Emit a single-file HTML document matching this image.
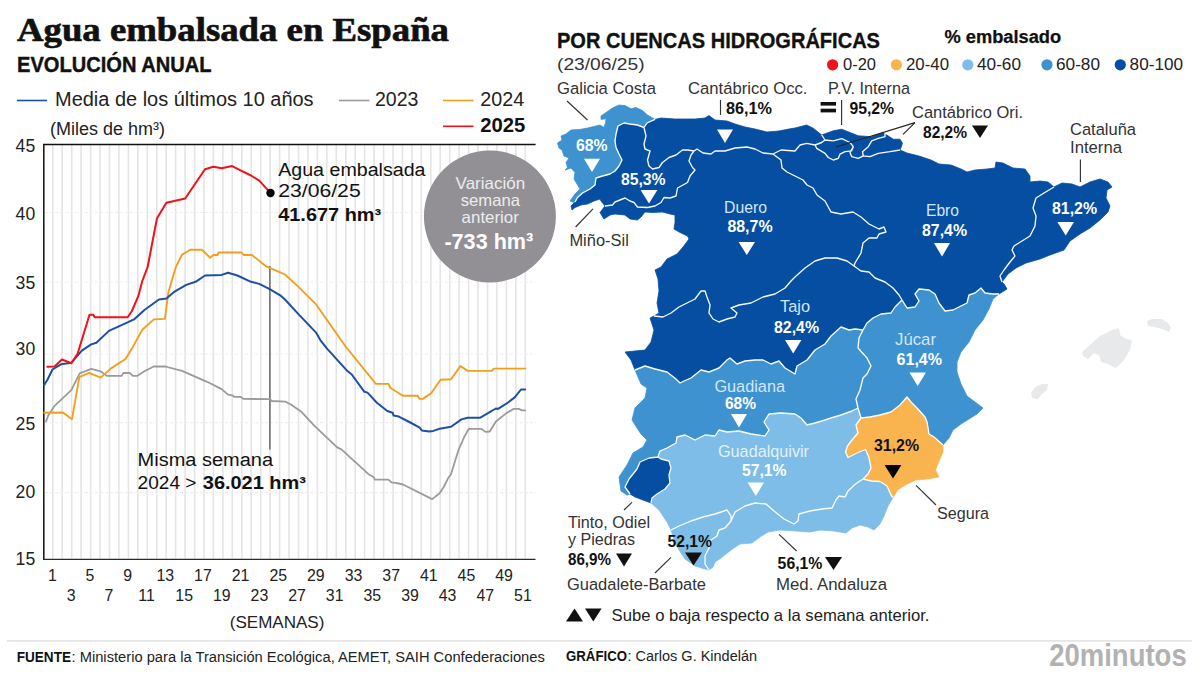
<!DOCTYPE html>
<html lang="es"><head><meta charset="utf-8"><title>Agua embalsada en España</title>
<style>html,body{margin:0;padding:0;background:#fff;}body{width:1200px;height:675px;overflow:hidden;}svg{display:block;}</style>
</head><body>
<svg width="1200" height="675" viewBox="0 0 1200 675">
<rect width="1200" height="675" fill="#ffffff"/>
<text x="17" y="41.3" font-family='"Liberation Serif", serif' font-size="33.5" font-weight="700" fill="#111" text-anchor="start" textLength="432" lengthAdjust="spacingAndGlyphs" stroke="#111" stroke-width="0.65">Agua embalsada en España</text>
<text x="17" y="72" font-family='"Liberation Sans", sans-serif' font-size="21.63" font-weight="700" fill="#111" text-anchor="start" textLength="194.5" lengthAdjust="spacingAndGlyphs" stroke="#111" stroke-width="0.4">EVOLUCIÓN ANUAL</text>
<line x1="17" y1="100.5" x2="47" y2="100.5" stroke="#1f4fa5" stroke-width="1.6"/>
<text x="55" y="106.3" font-family='"Liberation Sans", sans-serif' font-size="19.33" font-weight="400" fill="#222222" text-anchor="start" textLength="258.6" lengthAdjust="spacingAndGlyphs">Media de los últimos 10 años</text>
<line x1="339" y1="100.5" x2="369.3" y2="100.5" stroke="#999999" stroke-width="1.6"/>
<text x="375" y="106.2" font-family='"Liberation Sans", sans-serif' font-size="19.33" font-weight="400" fill="#222222" text-anchor="start" textLength="43.4" lengthAdjust="spacingAndGlyphs">2023</text>
<line x1="443" y1="100.5" x2="473.5" y2="100.5" stroke="#f0a01e" stroke-width="1.6"/>
<text x="480.3" y="106.2" font-family='"Liberation Sans", sans-serif' font-size="19.33" font-weight="400" fill="#222222" text-anchor="start" textLength="43.9" lengthAdjust="spacingAndGlyphs">2024</text>
<line x1="443" y1="126.3" x2="473.5" y2="126.3" stroke="#ee1219" stroke-width="1.6"/>
<text x="480.3" y="132.4" font-family='"Liberation Sans", sans-serif' font-size="19.33" font-weight="700" fill="#111" text-anchor="start" textLength="45.1" lengthAdjust="spacingAndGlyphs">2025</text>
<text x="50" y="135" font-family='"Liberation Sans", sans-serif' font-size="17.77" font-weight="400" fill="#222222" text-anchor="start" textLength="115" lengthAdjust="spacingAndGlyphs">(Miles de hm³)</text>
<path d="M52.8 145V558.5M62.2 145V558.5M71.7 145V558.5M81.1 145V558.5M90.6 145V558.5M100 145V558.5M109.5 145V558.5M118.9 145V558.5M128.4 145V558.5M137.8 145V558.5M147.3 145V558.5M156.8 145V558.5M166.2 145V558.5M175.6 145V558.5M185.1 145V558.5M194.6 145V558.5M204 145V558.5M213.4 145V558.5M222.9 145V558.5M232.3 145V558.5M241.8 145V558.5M251.2 145V558.5M260.7 145V558.5M270.1 145V558.5M279.6 145V558.5M289 145V558.5M298.5 145V558.5M307.9 145V558.5M317.4 145V558.5M326.8 145V558.5M336.3 145V558.5M345.8 145V558.5M355.2 145V558.5M364.6 145V558.5M374.1 145V558.5M383.6 145V558.5M393 145V558.5M402.4 145V558.5M411.9 145V558.5M421.3 145V558.5M430.8 145V558.5M440.2 145V558.5M449.7 145V558.5M459.1 145V558.5M468.6 145V558.5M478 145V558.5M487.5 145V558.5M496.9 145V558.5M506.4 145V558.5M515.8 145V558.5M525.3 145V558.5" stroke="#e5e5e5" stroke-width="1.6" fill="none"/>
<line x1="45" y1="212.5" x2="536" y2="212.5" stroke="#f1eeef" stroke-width="1.2" stroke-dasharray="3 2"/>
<line x1="45" y1="282" x2="536" y2="282" stroke="#f1eeef" stroke-width="1.2" stroke-dasharray="3 2"/>
<line x1="45" y1="354" x2="536" y2="354" stroke="#f1eeef" stroke-width="1.2" stroke-dasharray="3 2"/>
<line x1="45" y1="422.7" x2="536" y2="422.7" stroke="#f1eeef" stroke-width="1.2" stroke-dasharray="3 2"/>
<line x1="45" y1="492.6" x2="536" y2="492.6" stroke="#f1eeef" stroke-width="1.2" stroke-dasharray="3 2"/>
<circle cx="489.9" cy="216.4" r="66" fill="#929095"/>
<path d="M43.8 559.9V144.4H535.6" stroke="#111" stroke-width="1.5" fill="none"/>
<path d="M43.1 559.3H535.5" stroke="#2a2a2a" stroke-width="1.3" fill="none"/>
<text x="15.6" y="151.9" font-family='"Liberation Sans", sans-serif' font-size="17.97" font-weight="400" fill="#222222" text-anchor="start" textLength="19.6" lengthAdjust="spacingAndGlyphs">45</text>
<text x="15.6" y="219.6" font-family='"Liberation Sans", sans-serif' font-size="17.97" font-weight="400" fill="#222222" text-anchor="start" textLength="19.6" lengthAdjust="spacingAndGlyphs">40</text>
<text x="15.6" y="289.1" font-family='"Liberation Sans", sans-serif' font-size="17.97" font-weight="400" fill="#222222" text-anchor="start" textLength="19.6" lengthAdjust="spacingAndGlyphs">35</text>
<text x="15.6" y="355.4" font-family='"Liberation Sans", sans-serif' font-size="17.97" font-weight="400" fill="#222222" text-anchor="start" textLength="19.6" lengthAdjust="spacingAndGlyphs">30</text>
<text x="15.6" y="430.4" font-family='"Liberation Sans", sans-serif' font-size="17.97" font-weight="400" fill="#222222" text-anchor="start" textLength="19.6" lengthAdjust="spacingAndGlyphs">25</text>
<text x="15.6" y="498" font-family='"Liberation Sans", sans-serif' font-size="17.97" font-weight="400" fill="#222222" text-anchor="start" textLength="19.6" lengthAdjust="spacingAndGlyphs">20</text>
<text x="15.6" y="565.3" font-family='"Liberation Sans", sans-serif' font-size="17.97" font-weight="400" fill="#222222" text-anchor="start" textLength="19.6" lengthAdjust="spacingAndGlyphs">15</text>
<text x="52.4" y="580.8" font-family='"Liberation Sans", sans-serif' font-size="15.88" font-weight="400" fill="#222222" text-anchor="middle">1</text>
<text x="71.22" y="600.6" font-family='"Liberation Sans", sans-serif' font-size="15.88" font-weight="400" fill="#222222" text-anchor="middle">3</text>
<text x="90.04" y="580.8" font-family='"Liberation Sans", sans-serif' font-size="15.88" font-weight="400" fill="#222222" text-anchor="middle">5</text>
<text x="108.86" y="600.6" font-family='"Liberation Sans", sans-serif' font-size="15.88" font-weight="400" fill="#222222" text-anchor="middle">7</text>
<text x="127.68" y="580.8" font-family='"Liberation Sans", sans-serif' font-size="15.88" font-weight="400" fill="#222222" text-anchor="middle">9</text>
<text x="146.5" y="600.6" font-family='"Liberation Sans", sans-serif' font-size="15.88" font-weight="400" fill="#222222" text-anchor="middle">11</text>
<text x="165.32" y="580.8" font-family='"Liberation Sans", sans-serif' font-size="15.88" font-weight="400" fill="#222222" text-anchor="middle">13</text>
<text x="184.14" y="600.6" font-family='"Liberation Sans", sans-serif' font-size="15.88" font-weight="400" fill="#222222" text-anchor="middle">15</text>
<text x="202.96" y="580.8" font-family='"Liberation Sans", sans-serif' font-size="15.88" font-weight="400" fill="#222222" text-anchor="middle">17</text>
<text x="221.78" y="600.6" font-family='"Liberation Sans", sans-serif' font-size="15.88" font-weight="400" fill="#222222" text-anchor="middle">19</text>
<text x="240.6" y="580.8" font-family='"Liberation Sans", sans-serif' font-size="15.88" font-weight="400" fill="#222222" text-anchor="middle">21</text>
<text x="259.42" y="600.6" font-family='"Liberation Sans", sans-serif' font-size="15.88" font-weight="400" fill="#222222" text-anchor="middle">23</text>
<text x="278.24" y="580.8" font-family='"Liberation Sans", sans-serif' font-size="15.88" font-weight="400" fill="#222222" text-anchor="middle">25</text>
<text x="297.06" y="600.6" font-family='"Liberation Sans", sans-serif' font-size="15.88" font-weight="400" fill="#222222" text-anchor="middle">27</text>
<text x="315.88" y="580.8" font-family='"Liberation Sans", sans-serif' font-size="15.88" font-weight="400" fill="#222222" text-anchor="middle">29</text>
<text x="334.7" y="600.6" font-family='"Liberation Sans", sans-serif' font-size="15.88" font-weight="400" fill="#222222" text-anchor="middle">31</text>
<text x="353.52" y="580.8" font-family='"Liberation Sans", sans-serif' font-size="15.88" font-weight="400" fill="#222222" text-anchor="middle">33</text>
<text x="372.34" y="600.6" font-family='"Liberation Sans", sans-serif' font-size="15.88" font-weight="400" fill="#222222" text-anchor="middle">35</text>
<text x="391.16" y="580.8" font-family='"Liberation Sans", sans-serif' font-size="15.88" font-weight="400" fill="#222222" text-anchor="middle">37</text>
<text x="409.98" y="600.6" font-family='"Liberation Sans", sans-serif' font-size="15.88" font-weight="400" fill="#222222" text-anchor="middle">39</text>
<text x="428.8" y="580.8" font-family='"Liberation Sans", sans-serif' font-size="15.88" font-weight="400" fill="#222222" text-anchor="middle">41</text>
<text x="447.62" y="600.6" font-family='"Liberation Sans", sans-serif' font-size="15.88" font-weight="400" fill="#222222" text-anchor="middle">43</text>
<text x="466.44" y="580.8" font-family='"Liberation Sans", sans-serif' font-size="15.88" font-weight="400" fill="#222222" text-anchor="middle">45</text>
<text x="485.26" y="600.6" font-family='"Liberation Sans", sans-serif' font-size="15.88" font-weight="400" fill="#222222" text-anchor="middle">47</text>
<text x="504.08" y="580.8" font-family='"Liberation Sans", sans-serif' font-size="15.88" font-weight="400" fill="#222222" text-anchor="middle">49</text>
<text x="522.9" y="600.6" font-family='"Liberation Sans", sans-serif' font-size="15.88" font-weight="400" fill="#222222" text-anchor="middle">51</text>
<text x="229.8" y="628.4" font-family='"Liberation Sans", sans-serif' font-size="16.51" font-weight="400" fill="#222222" text-anchor="start" textLength="94.6" lengthAdjust="spacingAndGlyphs">(SEMANAS)</text>
<line x1="269.9" y1="266" x2="269.9" y2="449.4" stroke="#555" stroke-width="1.3"/>
<polyline points="46,421.3 48.4,415.2 54.6,405.8 71.3,390.1 79.7,373.4 91.2,368.8 100.6,371.3 106.8,375.9 121.5,375.9 123.5,373 129.8,373 132.9,375.9 137.1,375.9 144.4,371.3 153.8,366.5 165.3,366.5 182,370.9 207.1,381.8 221.7,389.1 228,394.7 232.1,395.3 234.2,396.8 240.5,396.8 243.6,398.9 269.7,399.1 271.8,401 285.4,401.6 291.3,404.7 301.7,412.1 314.2,425.6 337.2,447.4 341.4,449.4 368.5,474.2 373.8,477.2 374.8,479.5 388.4,479.6 391.5,482.4 395.7,482.8 403,484.5 432.2,499.1 439.6,493.3 443.7,487 447.9,478.6 451,474.2 458.3,450.5 464.6,436.1 468.8,428.8 481.3,428.8 485.5,431.9 489.7,431.5 495.9,421.5 506.4,413.1 513.7,408.9 518.9,408.9 522,410.4 525.2,410.4" fill="none" stroke="#9b9b9b" stroke-width="1.8" stroke-linejoin="round" stroke-linecap="round"/>
<polyline points="44.2,412.7 63,412.5 72,419.3 79.3,377.2 89.1,372.8 100.6,377.6 111,368.4 125.6,359 131.9,348.6 142.3,329.8 153.8,319.4 164.9,318.9 168.4,292.2 175.8,267.2 182,254.6 190.4,249.8 201.9,249.8 210.2,257.8 213.3,255 217.5,255 218.6,252.5 241.5,252.5 243.6,255 252,255 265.6,266.1 269.7,267.8 280.2,272.4 285,274.5 297.5,285.9 316.3,304.7 345.6,346.5 375.9,383.9 388.4,383.9 390.5,388 403,395.8 417.6,395.8 419.7,398.9 422.8,398.9 431.2,393.3 440.6,379.7 451,379.3 460.4,366.1 467.8,370.9 491.8,370.9 493.9,368.6 525.2,368.6" fill="none" stroke="#f0a01e" stroke-width="1.9" stroke-linejoin="round" stroke-linecap="round"/>
<polyline points="44.2,384.9 47.3,380 52.5,369.5 60.9,364.3 71.3,362.8 81.8,350.7 91.2,344.4 96.4,342.8 108.9,330.9 118.3,326.7 134,319.4 144.4,310 159,299.5 166.4,298.5 173.7,292.2 186.2,284.9 195.6,281.8 205,275.5 221.7,274.9 228,272.8 237.4,275.5 251,281.8 259.3,283.9 269.7,289.1 280.2,295.3 285,299.5 297.5,313.1 316.3,332.9 320.5,340.3 326.8,348.4 347.7,371.3 351.8,374.5 364.4,391.8 367.5,392.6 376.9,402.7 387.3,411 392.6,412.7 393.6,415.6 398.8,416.6 410.3,422.5 419.7,427.7 421.8,430.4 429.1,431.5 433.3,430.9 439.6,428.8 451,426.7 461.5,419.4 467.8,417.7 480.3,417.7 489.7,412.1 495.9,408.5 498,408.9 506.4,403.7 514.7,397.4 521,389.5 525.2,389.5" fill="none" stroke="#1f4fa5" stroke-width="2" stroke-linejoin="round" stroke-linecap="round"/>
<polyline points="47.3,366.8 54.6,366.4 61.9,359.5 71.3,363.2 77.6,353.8 89.5,314.8 93.3,314.8 94.7,317.3 127.7,317.3 131.9,311 138.2,296.4 142.3,281 147.6,267.2 152.8,240 157,218.3 166.4,202.7 185.2,198.5 205,169.2 213.3,166.7 221.7,168.2 232.1,166.1 240.5,170.3 251,175.5 259.3,180.7 269.7,192.2" fill="none" stroke="#ee1219" stroke-width="2" stroke-linejoin="round" stroke-linecap="round"/>
<circle cx="270.5" cy="193" r="4.2" fill="#000"/>
<text x="278.2" y="175.7" font-family='"Liberation Sans", sans-serif' font-size="18.18" font-weight="400" fill="#111" text-anchor="start" textLength="147.3" lengthAdjust="spacingAndGlyphs">Agua embalsada</text>
<text x="278.2" y="197.2" font-family='"Liberation Sans", sans-serif' font-size="18.18" font-weight="400" fill="#111" text-anchor="start" textLength="82.5" lengthAdjust="spacingAndGlyphs">23/06/25</text>
<text x="278.2" y="220.7" font-family='"Liberation Sans", sans-serif' font-size="18.18" font-weight="700" fill="#111" text-anchor="start" textLength="103" lengthAdjust="spacingAndGlyphs">41.677 hm³</text>
<text x="137.6" y="465.6" font-family='"Liberation Sans", sans-serif' font-size="18.18" font-weight="400" fill="#111" text-anchor="start" textLength="135.5" lengthAdjust="spacingAndGlyphs">Misma semana</text>
<text x="137.6" y="489.4" font-family='"Liberation Sans", sans-serif' font-size="18.18" font-weight="400" fill="#111" text-anchor="start" textLength="58.9" lengthAdjust="spacingAndGlyphs">2024 &gt;</text>
<text x="202.8" y="489.4" font-family='"Liberation Sans", sans-serif' font-size="18.18" font-weight="700" fill="#111" text-anchor="start" textLength="103" lengthAdjust="spacingAndGlyphs">36.021 hm³</text>
<text x="455.6" y="189.3" font-family='"Liberation Sans", sans-serif' font-size="16.51" font-weight="400" fill="#ececec" text-anchor="start" textLength="69.5" lengthAdjust="spacingAndGlyphs">Variación</text>
<text x="460.7" y="206.2" font-family='"Liberation Sans", sans-serif' font-size="16.51" font-weight="400" fill="#ececec" text-anchor="start" textLength="59.3" lengthAdjust="spacingAndGlyphs">semana</text>
<text x="461.6" y="222.7" font-family='"Liberation Sans", sans-serif' font-size="16.51" font-weight="400" fill="#ececec" text-anchor="start" textLength="57.3" lengthAdjust="spacingAndGlyphs">anterior</text>
<text x="444.4" y="248.9" font-family='"Liberation Sans", sans-serif' font-size="22.47" font-weight="700" fill="#ffffff" text-anchor="start" textLength="88.9" lengthAdjust="spacingAndGlyphs">-733 hm³</text>
<text x="557" y="47.5" font-family='"Liberation Sans", sans-serif' font-size="21.21" font-weight="700" fill="#111" text-anchor="start" textLength="323" lengthAdjust="spacingAndGlyphs" stroke="#111" stroke-width="0.35">POR CUENCAS HIDROGRÁFICAS</text>
<text x="557" y="70" font-family='"Liberation Sans", sans-serif' font-size="17.14" font-weight="400" fill="#333" text-anchor="start" textLength="87.6" lengthAdjust="spacingAndGlyphs">(23/06/25)</text>
<text x="944.4" y="43.3" font-family='"Liberation Sans", sans-serif' font-size="17.77" font-weight="700" fill="#111" text-anchor="start" textLength="116.8" lengthAdjust="spacingAndGlyphs" stroke="#111" stroke-width="0.25">% embalsado</text>
<circle cx="832.6" cy="64.8" r="5.6" fill="#ee1219"/>
<text x="843" y="70.3" font-family='"Liberation Sans", sans-serif' font-size="16.72" font-weight="400" fill="#222" text-anchor="start" textLength="33" lengthAdjust="spacingAndGlyphs">0-20</text>
<circle cx="896.4" cy="64.8" r="5.6" fill="#f9b450"/>
<text x="906" y="70.3" font-family='"Liberation Sans", sans-serif' font-size="16.72" font-weight="400" fill="#222" text-anchor="start" textLength="43" lengthAdjust="spacingAndGlyphs">20-40</text>
<circle cx="967.8" cy="64.8" r="5.6" fill="#7dbde8"/>
<text x="977" y="70.3" font-family='"Liberation Sans", sans-serif' font-size="16.72" font-weight="400" fill="#222" text-anchor="start" textLength="44" lengthAdjust="spacingAndGlyphs">40-60</text>
<circle cx="1047" cy="64.8" r="5.6" fill="#3e92cf"/>
<text x="1056" y="70.3" font-family='"Liberation Sans", sans-serif' font-size="16.72" font-weight="400" fill="#222" text-anchor="start" textLength="44" lengthAdjust="spacingAndGlyphs">60-80</text>
<circle cx="1120.3" cy="64.8" r="5.6" fill="#054ea2"/>
<text x="1129.6" y="70.3" font-family='"Liberation Sans", sans-serif' font-size="16.72" font-weight="400" fill="#222" text-anchor="start" textLength="53.4" lengthAdjust="spacingAndGlyphs">80-100</text>
<g stroke-linejoin="round">
<polygon points="575,202 577.5,197.5 582.5,193 590,189 595,185 596,178 602.5,176 610,174 615,171 619,166 622,160 619,154 616,147.5 615,141 616,134 618,126 624,123 630,124 637.5,125 644,127.5 647,123 655,119.4 661,118 675,119 695,119 705,118 709,115.6 715,120 727,121 735,124 745,127 755,129 767,132 779,131 789,129 795,128 800,126.7 806.7,125 813.3,128.3 821.7,135 833.3,130.8 841.7,129.2 850,132.5 858.3,135.8 871.7,136.7 883.3,132.5 886.7,135 893.3,139.2 900,139.2 902.5,143.3 900.8,148.3 900,150 907,153 919,156 931,160 939,164 951,165 961,169 967,172 975,170 987,169 995,168 996,162 1003,163 1013,168 1025,169 1030,176 1030,182 1040,181 1048,182 1054,187 1062,183 1072,184 1080,187 1090,182 1100,179 1108,182 1112,187 1107,190 1106,198 1110,206 1108,212 1100,220 1090,228 1080,234 1070,241 1064,250 1050,255 1040,259 1026,263 1016,268 1008,274 1002,282 1004,284 1007,289 999,294 993,294 985,293 981,288 975,293 969,295 967,303 961,306 953,310 945,311 939,303 935,294 929,290 919,289 915,294 919,301 915,307 907,308 902,300 895,307 891,313 881,314 873,318 867,323 863,330 855,329 849,330 841,327 831,336 825,344 815,350 807,360 797,366 795,374 785,368 779,361 771,364 763,360 755,360 745,361 737,364 730,358 727,360 719,368 709,372 701,370 691,378 684,381 680,383 676,379 667,372 655,369 645,366 635,370 631,360 625,352 645,350 651,342 654,330 650,318 654,316 659,313 657,303 659,291 658,279 655,270 661,267 667,259 677,254 683,247 689,239 687.5,236 680,232.5 674,229 675,222.5 675,215 670,214 662.5,212 652.5,212.5 645,212 641,217 637.5,220 630,219 625,215 615,214 610,215 604,219 600,212.5 605,206 601,201 600,199 594,201 587.5,204 581,205 575,207.5 572,210 571,206 575,202" fill="#054ea2" stroke="#054ea2" stroke-width="0.8"/>
<polygon points="575,202 574,202.5 570,201 575,194 580,189 577,184 574,179 575,172.5 571,168 565,170 567.5,167.5 566,162.5 569,158 564,156 562,150 559,148 557.5,143 562,140 561,136 566,134 571,130 580,129.4 587.5,128 596,126 600,125 604,127.5 605.6,122.5 606,118.8 601,119.4 601,116 606,112.5 612.5,108 619,105 625,105.6 631,108.8 636,107.5 642.5,110.6 647.5,115 655,119.4 647,123 644,127.5 637.5,125 630,124 624,123 618,126 616,134 615,141 616,147.5 619,154 622,160 619,166 615,171 610,174 602.5,176 596,178 595,185 590,189 582.5,193 577.5,197.5 575,202" fill="#3e92cf" stroke="#3e92cf" stroke-width="0.8"/>
<polygon points="902,300 907,308 915,307 919,301 915,294 919,289 929,290 935,294 939,303 945,311 953,310 961,306 967,303 969,295 975,293 981,288 985,293 993,294 999,294 993,299 989,309 983,320 975,330 969,342 961,352 957,362 957,372 961,384 967,396 975,402 983,408 977,414 969,419 961,424 953,430 949,438 943,445 934,437 929,434 927,422 925,417 917,408 911,402 907,397 900,405 891,412 880,415 870,417 861,418 858,408 856,399 860,390 863,378 867,374 871,366 867,358 858,348 859,338 863,330 867,323 873,318 881,314 891,313 895,307 902,300" fill="#3e92cf" stroke="#3e92cf" stroke-width="0.8"/>
<polygon points="863,330 855,329 849,330 841,327 831,336 825,344 815,350 807,360 797,366 795,374 785,368 779,361 771,364 763,360 755,360 745,361 737,364 730,358 727,360 719,368 709,372 701,370 691,378 684,381 680,383 676,379 667,372 655,369 645,366 635,370 641,384 647,388 645,398 635,408 632,420 637,428 641,434 647,440 643,447 633,453 627,465 619,477 621,491 627,495 630,494 625,487 629,479 637,469 640,462 649,458 658,457 660,451 667,448 676,443 677,437 685,435 695,440 705,435 715,436 719,430 727,432 739,431 751,434 765,436 769,430 764,422 769,414 781,413 795,414 801,418 807,425 815,423 825,420 831,418 841,415 852,411 858,408 856,399 860,390 863,378 867,374 871,366 867,358 858,348 859,338 863,330" fill="#3e92cf" stroke="#3e92cf" stroke-width="0.8"/>
<polygon points="858,408 852,411 841,415 831,418 825,420 815,423 807,425 801,418 795,414 781,413 769,414 764,422 769,430 765,436 751,434 739,431 727,432 719,430 715,436 705,435 695,440 685,435 677,437 676,443 667,448 660,451 658,457 661,459 669,461 671,468 669,475 670,483 665,489 657,494 652,498 651,503 659,510 667,522 671,530 675,542 679,550 685,559 695,566 705,569 709,570 713,567 715,562 721,558 731,550 740,544 752,543 760,537 768,532 780,530 796,531 810,532 820,530 834,531 846,533 852,528 860,525 868,527 874,530 880,524 884,516 888,506 893,497.5 891,495 887,486 880,481.5 871.5,481 863,479 868,474 871,468 869,457.5 865.5,449.5 858,452.5 852,455.5 848,457.5 845.5,452 847.5,446 852,440 858,433 856,425 861,418 858,408" fill="#7dbde8" stroke="#7dbde8" stroke-width="0.8"/>
<polygon points="630,494 625,487 629,479 637,469 640,462 649,458 658,457 661,459 669,461 671,468 669,475 670,483 665,489 657,494 652,498 651,503 643,500 635,497 630,494" fill="#054ea2" stroke="#054ea2" stroke-width="0.8"/>
<polygon points="861,418 870,417 880,415 891,412 900,405 907,397 911,402 917,408 925,417 927,422 929,434 934,437 943,445 943,452 939,461 935.5,470 939,477 927,479 916,480 907,484 898,489.5 893,497.5 891,495 887,486 880,481.5 871.5,481 863,479 868,474 871,468 869,457.5 865.5,449.5 858,452.5 852,455.5 848,457.5 845.5,452 847.5,446 852,440 858,433 856,425 861,418" fill="#f9b450" stroke="#f9b450" stroke-width="0.8"/>
<polygon points="1082,352 1090,345 1100,336 1112,330 1119,328 1120,335 1126,339 1132,340 1130,350 1124,360 1116,368 1108,364 1101,362 1099,355 1094,353 1088,359 1083,356" fill="#e8e9eb"/>
<polygon points="1147,321 1152,319 1162,319 1168,323 1171,328 1169,332 1162,329 1154,327 1148,326" fill="#e8e9eb"/>
<polygon points="1031,393 1035,387 1042,384 1048,384 1047,390 1042,394 1038,399 1032,398" fill="#e8e9eb"/>
<path d="M575 202 L577.5 197.5 L582.5 193 L590 189 L595 185 L596 178 L602.5 176 L610 174 L615 171 L619 166 L622 160 L619 154 L616 147.5 L615 141 L616 134 L618 126 L624 123 L630 124 L637.5 125 L644 127.5M644 127.5 L647 123 L655 119.4M644 127.5 L646 136 L644 144 L645 149 L650 151 L647.5 160 L649 166 L652.5 169 L659 167.5 L662.5 162.5 L669 157.5 L676 155 L682.5 150 L687.5 150 L694 151M694 151 L691 155 L689 161 L692.5 167.5 L695 170 L690 176 L687.5 182.5 L677.5 188 L676 196 L670 198 L664 197.5 L661 202.5 L655 206 L647.5 207.5 L637.5 207 L634 202.5 L630 201 L625 198 L620 200 L615 202 L612.5 205 L605 206M694 151 L697 149 L703 153 L711 154 L715 151 L725 151 L735 148 L747 147 L755 149 L763 153 L773 154M773 154 L781 150 L795 151 L800 145 L806.7 143.3 L815 145M815 145 L821.7 142.5 L825 140 L833.3 140.8 L841.7 138.7 L850 142.5 L853.3 146.7 L851.7 150.8 L845 151.7 L840 154.2 L838.3 158.3 L833.3 160 L828.3 157.5 L825 153.3 L816.7 148.3 L815 145M821.7 135 L825 140M853.3 146.7 L850 152.5 L851.7 156.7 L858.3 158.3 L863.3 155.8 L870 156.7 L878.3 153.3 L890 151.7 L900 150M863.3 155.8 L862.5 151.7 L868.3 146.7 L871.7 140.8 L878.3 138.3 L885 136.7 L885 132.5M773 154 L781 160 L782 168 L787 172 L795 176 L803 180 L807 185 L813 188 L817 195 L825 201 L831 212 L841 214 L853 212 L861 217 L869 224 L879 229 L884 227 L886 232 L879 234 L877 238 L869 238 L863 243 L861 253 L855 263 L854 266M854 266 L847 261 L837 258 L825 258 L815 261 L805 268 L795 277 L791 281 L785 288 L775 294 L763 297 L751 303 L739 305 L731 308 L737 313 L735 317 L727 319 L719 322 L713 319 L709 313 L710 305 L707 297 L705 291 L701 291 L695 299 L687 303 L679 307 L671 313 L663 317 L654 316M854 266 L861 271 L869 272 L875 278 L885 282 L893 288 L899 295 L902 300M902 300 L907 308 L915 307 L919 301 L915 294 L919 289 L929 290 L935 294 L939 303 L945 311 L953 310 L961 306 L967 303 L969 295 L975 293 L981 288 L985 293 L993 294 L999 294M902 300 L895 307 L891 313 L881 314 L873 318 L867 323 L863 330M863 330 L855 329 L849 330 L841 327 L831 336 L825 344 L815 350 L807 360 L797 366 L795 374 L785 368 L779 361 L771 364 L763 360 L755 360 L745 361 L737 364 L730 358 L727 360 L719 368 L709 372 L701 370 L691 378 L684 381 L680 383 L676 379 L667 372 L655 369 L645 366 L635 370M863 330 L859 338 L858 348 L867 358 L871 366 L867 374 L863 378 L860 390 L856 399 L858 408M858 408 L861 418M858 408 L852 411 L841 415 L831 418 L825 420 L815 423 L807 425 L801 418 L795 414 L781 413 L769 414 L764 422 L769 430 L765 436 L751 434 L739 431 L727 432 L719 430 L715 436 L705 435 L695 440 L685 435 L677 437 L676 443 L667 448 L660 451 L658 457M630 494 L625 487 L629 479 L637 469 L640 462 L649 458 L658 457M658 457 L661 459 L669 461 L671 468 L669 475 L670 483 L665 489 L657 494 L652 498 L651 503M863 479 L855.5 484 L848 491 L845 497 L839 496 L836 500 L832 508 L822 509 L810 511 L799 514 L798 521 L794 524 L784 519 L774 511 L766 504 L755 503 L745 506 L735 512 L731 521M731 521 L731 516 L727 510 L715 514 L703 517 L691 521 L679 526 L671 530M731 521 L725 528 L719 530 L717 536 L711 540 L709 548 L705 556 L705 564 L709 570M1054 187 L1044 193 L1036 198 L1033 208 L1036 216 L1035 226 L1030 236 L1022 241 L1014 246 L1012 250 L1015 256 L1010 262 L1004 270 L1000 276 L1002 282" fill="none" stroke="#ffffff" stroke-width="1.35" stroke-opacity="0.97"/>
<path d="M861 418 L870 417 L880 415 L891 412 L900 405 L907 397 L911 402 L917 408 L925 417 L927 422 L929 434 L934 437 L943 445M861 418 L856 425 L858 433 L852 440 L847.5 446 L845.5 452 L848 457.5 L852 455.5 L858 452.5 L865.5 449.5 L869 457.5 L871 468 L868 474 L863 479M863 479 L871.5 481 L880 481.5 L887 486 L891 495 L893 497.5" fill="none" stroke="#ffffff" stroke-width="1.3" stroke-opacity="0.95"/>
</g>
<text x="557" y="94.1" font-family='"Liberation Sans", sans-serif' font-size="16.09" font-weight="400" fill="#333" text-anchor="start" textLength="99" lengthAdjust="spacingAndGlyphs">Galicia Costa</text>
<line x1="567" y1="101" x2="587.5" y2="120" stroke="#333" stroke-width="1.15"/>
<text x="576" y="150.6" font-family='"Liberation Sans", sans-serif' font-size="15.88" font-weight="700" fill="#fff" text-anchor="start" textLength="31.5" lengthAdjust="spacingAndGlyphs">68%</text>
<polygon points="584,158.8 600,158.8 592,172" fill="#fff"/>
<text x="621" y="184.6" font-family='"Liberation Sans", sans-serif' font-size="15.88" font-weight="700" fill="#fff" text-anchor="start" textLength="44.6" lengthAdjust="spacingAndGlyphs">85,3%</text>
<polygon points="640.6,190 657.4,190 649,203.4" fill="#fff"/>
<text x="569.4" y="245.7" font-family='"Liberation Sans", sans-serif' font-size="16.09" font-weight="400" fill="#333" text-anchor="start" textLength="59.4" lengthAdjust="spacingAndGlyphs">Miño-Sil</text>
<line x1="593" y1="208.8" x2="575.6" y2="227" stroke="#333" stroke-width="1.15"/>
<text x="688" y="94.1" font-family='"Liberation Sans", sans-serif' font-size="16.09" font-weight="400" fill="#333" text-anchor="start" textLength="119.5" lengthAdjust="spacingAndGlyphs">Cantábrico Occ.</text>
<line x1="720.5" y1="100" x2="720.5" y2="115" stroke="#333" stroke-width="1.15"/>
<text x="726" y="113.6" font-family='"Liberation Sans", sans-serif' font-size="15.88" font-weight="700" fill="#111" text-anchor="start" textLength="46" lengthAdjust="spacingAndGlyphs">86,1%</text>
<polygon points="717,129.5 733,129.5 725,143" fill="#fff"/>
<text x="828" y="94" font-family='"Liberation Sans", sans-serif' font-size="16.09" font-weight="400" fill="#333" text-anchor="start" textLength="82" lengthAdjust="spacingAndGlyphs">P.V. Interna</text>
<rect x="820.6" y="102" width="15.4" height="3.6" fill="#111"/><rect x="820.6" y="108.7" width="15.4" height="3.7" fill="#111"/>
<line x1="841.6" y1="100" x2="841.6" y2="125" stroke="#333" stroke-width="1.15"/>
<text x="849.4" y="114.2" font-family='"Liberation Sans", sans-serif' font-size="15.88" font-weight="700" fill="#111" text-anchor="start" textLength="44.6" lengthAdjust="spacingAndGlyphs">95,2%</text>
<text x="912" y="117.7" font-family='"Liberation Sans", sans-serif' font-size="16.09" font-weight="400" fill="#333" text-anchor="start" textLength="111" lengthAdjust="spacingAndGlyphs">Cantábrico Ori.</text>
<text x="923" y="137.6" font-family='"Liberation Sans", sans-serif' font-size="15.88" font-weight="700" fill="#111" text-anchor="start" textLength="44" lengthAdjust="spacingAndGlyphs">82,2%</text>
<polygon points="972,125.6 988,125.6 980,138" fill="#111"/>
<line x1="836" y1="147" x2="915" y2="122.6" stroke="#222" stroke-width="1.15"/>
<line x1="903" y1="134.4" x2="915" y2="122.6" stroke="#222" stroke-width="1.15"/>
<text x="1070" y="135.1" font-family='"Liberation Sans", sans-serif' font-size="16.09" font-weight="400" fill="#333" text-anchor="start" textLength="66" lengthAdjust="spacingAndGlyphs">Cataluña</text>
<text x="1070" y="153.1" font-family='"Liberation Sans", sans-serif' font-size="16.09" font-weight="400" fill="#333" text-anchor="start" textLength="52" lengthAdjust="spacingAndGlyphs">Interna</text>
<line x1="1080.4" y1="159.4" x2="1080.4" y2="182" stroke="#333" stroke-width="1.15"/>
<text x="1052" y="213.6" font-family='"Liberation Sans", sans-serif' font-size="15.88" font-weight="700" fill="#fff" text-anchor="start" textLength="45" lengthAdjust="spacingAndGlyphs">81,2%</text>
<polygon points="1057.4,222 1074,222 1065.7,235.6" fill="#fff"/>
<text x="724" y="213.3" font-family='"Liberation Sans", sans-serif' font-size="16.09" font-weight="400" fill="#d3e6f8" text-anchor="start" textLength="43" lengthAdjust="spacingAndGlyphs">Duero</text>
<text x="727.4" y="232" font-family='"Liberation Sans", sans-serif' font-size="15.88" font-weight="700" fill="#fff" text-anchor="start" textLength="45.2" lengthAdjust="spacingAndGlyphs">88,7%</text>
<polygon points="738.6,242 755,242 746.8,255" fill="#fff"/>
<text x="926" y="215.7" font-family='"Liberation Sans", sans-serif' font-size="16.09" font-weight="400" fill="#d3e6f8" text-anchor="start" textLength="33" lengthAdjust="spacingAndGlyphs">Ebro</text>
<text x="922" y="235.6" font-family='"Liberation Sans", sans-serif' font-size="15.88" font-weight="700" fill="#fff" text-anchor="start" textLength="45" lengthAdjust="spacingAndGlyphs">87,4%</text>
<polygon points="934,243 950,243 942,256.6" fill="#fff"/>
<text x="780" y="311.7" font-family='"Liberation Sans", sans-serif' font-size="16.09" font-weight="400" fill="#d3e6f8" text-anchor="start" textLength="30" lengthAdjust="spacingAndGlyphs">Tajo</text>
<text x="774" y="332.6" font-family='"Liberation Sans", sans-serif' font-size="15.88" font-weight="700" fill="#fff" text-anchor="start" textLength="45" lengthAdjust="spacingAndGlyphs">82,4%</text>
<polygon points="785,340 801.4,340 793.2,353.4" fill="#fff"/>
<text x="895" y="344.7" font-family='"Liberation Sans", sans-serif' font-size="16.09" font-weight="400" fill="#d3e6f8" text-anchor="start" textLength="41" lengthAdjust="spacingAndGlyphs">Júcar</text>
<text x="896.6" y="364.6" font-family='"Liberation Sans", sans-serif' font-size="15.88" font-weight="700" fill="#fff" text-anchor="start" textLength="45.4" lengthAdjust="spacingAndGlyphs">61,4%</text>
<polygon points="909.4,372.4 926,372.4 917.7,386" fill="#fff"/>
<text x="714.4" y="391.7" font-family='"Liberation Sans", sans-serif' font-size="16.09" font-weight="400" fill="#d3e6f8" text-anchor="start" textLength="70.6" lengthAdjust="spacingAndGlyphs">Guadiana</text>
<text x="725" y="408.6" font-family='"Liberation Sans", sans-serif' font-size="15.88" font-weight="700" fill="#fff" text-anchor="start" textLength="31" lengthAdjust="spacingAndGlyphs">68%</text>
<polygon points="731,414 747,414 739,427.6" fill="#fff"/>
<text x="718" y="457.3" font-family='"Liberation Sans", sans-serif' font-size="16.09" font-weight="400" fill="#e4f0fa" text-anchor="start" textLength="91" lengthAdjust="spacingAndGlyphs">Guadalquivir</text>
<text x="742" y="475.6" font-family='"Liberation Sans", sans-serif' font-size="15.88" font-weight="700" fill="#fff" text-anchor="start" textLength="44.6" lengthAdjust="spacingAndGlyphs">57,1%</text>
<polygon points="747.6,482.6 764,482.6 755.8,496" fill="#fff"/>
<text x="874" y="450.6" font-family='"Liberation Sans", sans-serif' font-size="15.88" font-weight="700" fill="#111" text-anchor="start" textLength="45" lengthAdjust="spacingAndGlyphs">31,2%</text>
<polygon points="884.6,465 901.4,465 893,478.6" fill="#000"/>
<line x1="916" y1="485.4" x2="936" y2="505" stroke="#333" stroke-width="1.15"/>
<text x="937" y="519.3" font-family='"Liberation Sans", sans-serif' font-size="16.09" font-weight="400" fill="#333" text-anchor="start" textLength="52" lengthAdjust="spacingAndGlyphs">Segura</text>
<line x1="632" y1="502.4" x2="624" y2="510" stroke="#333" stroke-width="1.15"/>
<text x="568" y="527.7" font-family='"Liberation Sans", sans-serif' font-size="16.09" font-weight="400" fill="#333" text-anchor="start" textLength="82" lengthAdjust="spacingAndGlyphs">Tinto, Odiel</text>
<text x="568" y="545.1" font-family='"Liberation Sans", sans-serif' font-size="16.09" font-weight="400" fill="#333" text-anchor="start" textLength="67" lengthAdjust="spacingAndGlyphs">y Piedras</text>
<text x="568" y="565" font-family='"Liberation Sans", sans-serif' font-size="15.88" font-weight="700" fill="#111" text-anchor="start" textLength="43" lengthAdjust="spacingAndGlyphs">86,9%</text>
<polygon points="616,553.6 632,553.6 624,566.6" fill="#111"/>
<text x="667.6" y="547" font-family='"Liberation Sans", sans-serif' font-size="15.88" font-weight="700" fill="#111" text-anchor="start" textLength="44.4" lengthAdjust="spacingAndGlyphs">52,1%</text>
<polygon points="685,552.4 702,552.4 693.5,565.6" fill="#111"/>
<line x1="671" y1="557.4" x2="655" y2="573" stroke="#333" stroke-width="1.15"/>
<text x="567" y="589.7" font-family='"Liberation Sans", sans-serif' font-size="16.09" font-weight="400" fill="#333" text-anchor="start" textLength="139" lengthAdjust="spacingAndGlyphs">Guadalete-Barbate</text>
<line x1="779" y1="534.4" x2="796.6" y2="551" stroke="#333" stroke-width="1.15"/>
<text x="777.6" y="569" font-family='"Liberation Sans", sans-serif' font-size="15.88" font-weight="700" fill="#111" text-anchor="start" textLength="44.8" lengthAdjust="spacingAndGlyphs">56,1%</text>
<polygon points="825,557 842,557 833.5,570" fill="#111"/>
<text x="776" y="590.1" font-family='"Liberation Sans", sans-serif' font-size="16.09" font-weight="400" fill="#333" text-anchor="start" textLength="111" lengthAdjust="spacingAndGlyphs">Med. Andaluza</text>
<polygon points="566,621.6 583,621.6 574.5,608.6" fill="#111"/>
<polygon points="585,608.6 601.6,608.6 593.3,621.6" fill="#111"/>
<text x="611.6" y="620.6" font-family='"Liberation Sans", sans-serif' font-size="15.67" font-weight="400" fill="#222" text-anchor="start" textLength="317.9" lengthAdjust="spacingAndGlyphs">Sube o baja respecto a la semana anterior.</text>
<rect x="6.8" y="640" width="1185" height="1.8" fill="#e6e6e6"/>
<text x="16.7" y="661.6" font-family='"Liberation Sans", sans-serif' font-size="14.63" font-weight="700" fill="#111" text-anchor="start" textLength="54.3" lengthAdjust="spacingAndGlyphs">FUENTE</text>
<text x="71.5" y="661.6" font-family='"Liberation Sans", sans-serif' font-size="14.63" font-weight="400" fill="#222" text-anchor="start" textLength="473.3" lengthAdjust="spacingAndGlyphs">: Ministerio para la Transición Ecológica, AEMET, SAIH Confederaciones</text>
<text x="566" y="661.3" font-family='"Liberation Sans", sans-serif' font-size="14.63" font-weight="700" fill="#111" text-anchor="start" textLength="61" lengthAdjust="spacingAndGlyphs">GRÁFICO</text>
<text x="627.5" y="661.3" font-family='"Liberation Sans", sans-serif' font-size="14.63" font-weight="400" fill="#222" text-anchor="start" textLength="129.5" lengthAdjust="spacingAndGlyphs">: Carlos G. Kindelán</text>
<text x="1049.2" y="666.3" font-family='"Liberation Sans", sans-serif' font-size="31.35" font-weight="700" fill="#b2b2b2" text-anchor="start" textLength="137.5" lengthAdjust="spacingAndGlyphs">20minutos</text>
</svg>
</body></html>
